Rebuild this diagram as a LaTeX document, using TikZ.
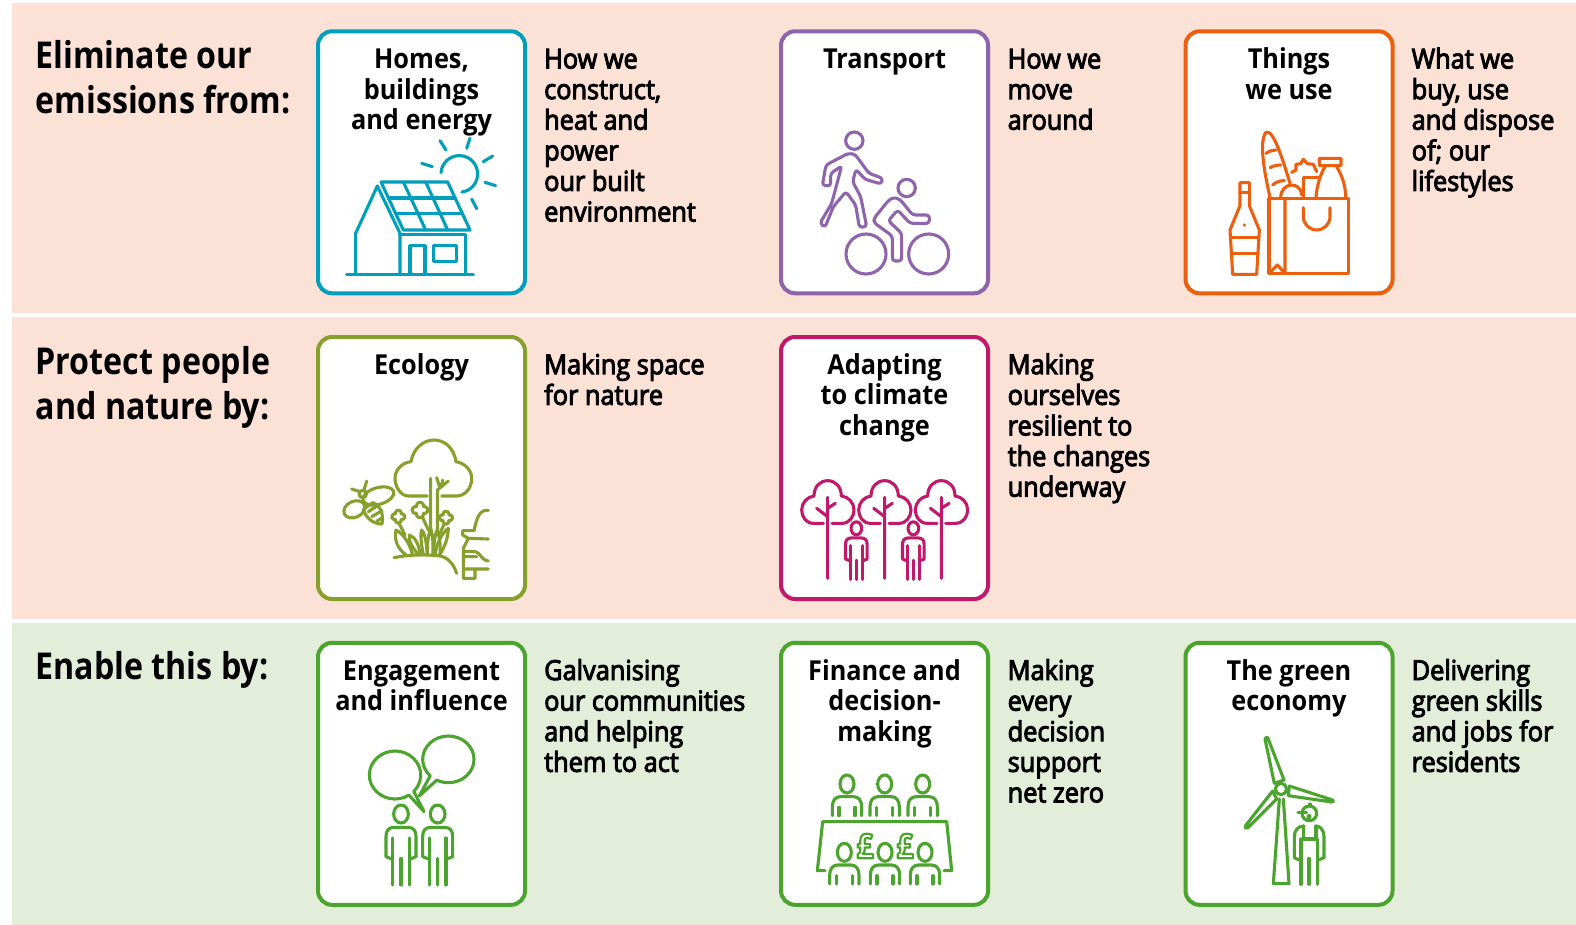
\documentclass[tikz,border=0pt]{standalone}
\usepackage{fontspec}
\setmainfont{Open Sans}[FakeStretch=0.92]
\newfontfamily\headfont{Open Sans}[FakeStretch=0.87]
\newfontfamily\semifont{Open Sans}[FakeStretch=0.92,FakeBold=3.5]
\definecolor{bandpeach}{HTML}{FCE1D6}
\definecolor{bandgreen}{HTML}{E2EDDA}
\definecolor{cteal}{HTML}{009FBC}
\definecolor{cpurple}{HTML}{8E64AB}
\definecolor{corange}{HTML}{EC5F0F}
\definecolor{colive}{HTML}{87A02B}
\definecolor{cmagenta}{HTML}{C2186A}
\definecolor{cgreen}{HTML}{4BA42E}
\tikzset{
  band/.style={fill=#1,draw=none},
  card/.style={draw=#1,fill=white,line width=4pt,rounded corners=14pt,minimum width=207pt,minimum height=262pt,inner sep=0pt,anchor=north west},
  heading/.style={anchor=base west,align=left,inner sep=0pt,font=\headfont\fontsize{37}{45}\selectfont\bfseries},
  title/.style={anchor=base,align=center,inner sep=0pt,font=\fontsize{27.5}{30.6}\selectfont\bfseries},
  desc/.style={anchor=base west,align=left,inner sep=0pt,font=\semifont\fontsize{27.5}{30.6}\selectfont},
  icon/.style={color=#1,line width=3.1pt,line cap=round,line join=round},
  zoomed/.style 2 args={shift={(#1,#2)},x=0.33333pt,y=-0.33333pt},
  person/.pic={
    \draw (0,0) ellipse[x radius=22,y radius=27];
    \draw (-25,136) -- (-45,128) -- (-45,68) .. controls (-45,50) and (-38,40) .. (-20,40) -- (20,40) .. controls (38,40) and (45,50) .. (45,68) -- (45,128) -- (25,136);
    \draw (-25,72) -- (-25,213) (25,72) -- (25,213) (0,133) -- (0,213);
  },
  sitter/.pic={
    \draw (0,0) ellipse[x radius=21,y radius=27];
    \draw (-44,95) -- (-44,68) .. controls (-44,50) and (-35,38) .. (-20,38) -- (20,38) .. controls (35,38) and (44,50) .. (44,68) -- (44,95);
    \draw (-24,70) -- (-24,95) (24,70) -- (24,95);
  },
  clover/.pic={
    \draw (7,-7) arc[start angle=-105.9,end angle=105.9,radius=7.3]
      arc[start angle=-15.9,end angle=195.9,radius=7.3]
      arc[start angle=74.1,end angle=285.9,radius=7.3]
      arc[start angle=164.1,end angle=375.9,radius=7.3] -- cycle;
  },
  ptree/.pic={
    \draw (130,190) -- (100,190) .. controls (78,190) and (65,170) .. (65,150) .. controls (65,128) and (82,110) .. (102,108)
      .. controls (102,80) and (120,62) .. (143,62) .. controls (166,62) and (184,80) .. (184,108)
      .. controls (205,110) and (222,128) .. (222,150) .. controls (222,170) and (208,190) .. (186,190) -- (156,190);
    \draw (143,112) -- (143,355) (110,145) -- (143,170) (143,145) -- (166,130);
  }
}
\begin{document}
\begin{tikzpicture}[x=1pt,y=-1pt]
\useasboundingbox (0,0) rectangle (1576,925);
% bands
\fill[band=bandpeach] (12,3) rectangle (1576,312.7);
\fill[band=bandpeach] (12,317.3) rectangle (1576,619);
\fill[band=bandgreen] (12,623) rectangle (1576,925);
% headings
\node[heading] (h1) at (35.5,113.7) {Eliminate our\\emissions from:};
\node[heading] (h2) at (35.5,419) {Protect people\\and nature by:};
\node[heading] (h3) at (35.5,679.5) {Enable this by:};
% cards
\node[card=cteal] (c1) at (316,29.3) {};
\node[card=cpurple] (c2) at (779,29.3) {};
\node[card=corange] (c3) at (1183.5,29.3) {};
\node[card=colive] (c4) at (316,335) {};
\node[card=cmagenta] (c5) at (779,335) {};
\node[card=cgreen] (c6) at (316,640.8) {};
\node[card=cgreen] (c7) at (779,640.8) {};
\node[card=cgreen] (c8) at (1183.5,640.8) {};
% titles
\node[title] (t1) at (421.5,129.7) {Homes,\\buildings\\and energy};
\node[title] (t2) at (884.5,68.5) {Transport};
\node[title] (t3) at (1289,99.1) {Things\\we use};
\node[title] (t4) at (421.5,374.2) {Ecology};
\node[title] (t5) at (884.5,435.4) {Adapting\\to climate\\change};
\node[title] (t6) at (421.5,710.6) {Engagement\\and influence};
\node[title] (t7) at (884.5,741.2) {Finance and\\decision-\\making};
\node[title] (t8) at (1289,710.6) {The green\\economy};
% descriptions
\node[desc] (d1) at (544,221.5) {How we\\construct,\\heat and\\power\\our built\\environment};
\node[desc] (d2) at (1007.5,129.7) {How we\\move\\around};
\node[desc] (d3) at (1411.5,190.9) {What we\\buy, use\\and dispose\\of; our\\lifestyles};
\node[desc] (d4) at (544,404.8) {Making space\\for nature};
\node[desc] (d5) at (1007.5,496.6) {Making\\ourselves\\resilient to\\the changes\\underway};
\node[desc] (d6) at (544,771.8) {Galvanising\\our communities\\and helping\\them to act};
\node[desc] (d7) at (1007.5,802.4) {Making\\every\\decision\\support\\net zero};
\node[desc] (d8) at (1411.5,771.8) {Delivering\\green skills\\and jobs for\\residents};
% icon 1: house
\begin{scope}[icon=cteal,zoomed={300}{0}]
\draw (140,823) -- (520,823);
\draw (300,823) -- (300,700) -- (232,558) -- (167,700) -- (167,823);
\draw (300,703) -- (497,703) -- (497,823);
\draw (330,823) -- (330,737) -- (375,737) -- (375,823);
\draw (400,737) rectangle (470,785);
\draw (243,546) -- (443,546) -- (510,690) -- (310,690) -- cycle;
\draw (265,594) -- (465,594) (288,640) -- (488,640);
\draw (310,546) -- (377,690) (377,546) -- (443,690);
\draw (423,518) arc[start angle=184,end angle=442,radius=55];
\draw (420,422) -- (438,450) (510,415) -- (500,445) (578,468) -- (550,485);
\draw (365,490) -- (397,500) (555,547) -- (587,557) (515,597) -- (530,626);
\end{scope}
% icon 2: walker and cyclist
\begin{scope}[icon=cpurple,zoomed={770}{110}]
\draw (253,92) circle[radius=26];
\draw (410,234) circle[radius=26];
\draw (288,432) circle[radius=60];
\draw (476,432) circle[radius=60];
\draw[rounded corners=3pt] (235,130) -- (255,133) -- (297,190) -- (338,205) -- (334,222) -- (285,208) -- (258,178) -- (248,215) -- (272,260) -- (290,350) -- (268,352) -- (257,285) -- (228,245) -- (190,290) -- (165,352) -- (150,340) -- (185,280) -- (215,168) -- (182,190) -- (182,228) -- (157,226) -- (168,165) -- cycle;
\draw[rounded corners=3pt] (370,262) -- (390,268) -- (428,315) -- (478,315) -- (478,340) -- (420,340) -- (383,300) -- (355,332) -- (395,370) -- (395,453) -- (367,453) -- (367,378) -- (312,338) -- (312,325) -- (355,272) -- cycle;
\end{scope}
% icon 3: shopping
\begin{scope}[icon=corange,zoomed={1190}{115}]
\draw (150,203) -- (178,203) -- (178,272) -- (208,345) -- (200,478) -- (128,478) -- (120,345) -- (150,272) -- cycle;
\draw (150,232) -- (178,232) (122,367) -- (206,367) (127,415) -- (201,415);
\fill (163,330) circle[radius=5];
\draw (237,250) rectangle (475,475);
\draw (285,250) -- (285,475) (237,475) -- (262,450) -- (285,475);
\draw (340,278) -- (340,305) arc[start angle=180,end angle=0,radius=40] -- (420,278);
\draw (240,248) .. controls (225,180) and (205,80) .. (228,52) .. controls (250,40) and (280,140) .. (300,205);
\draw (228,115) .. controls (238,108) and (248,105) .. (258,105);
\draw (240,158) .. controls (250,152) and (262,150) .. (272,150);
\draw (248,210) .. controls (258,200) and (272,197) .. (283,197);
\draw (272,248) .. controls (272,225) and (288,210) .. (305,210) .. controls (320,210) and (335,222) .. (335,240);
\draw (305,172) -- (318,165) -- (318,148) -- (332,146) -- (340,133) -- (352,146) -- (370,148) -- (380,170);
\draw (340,248) -- (340,188) -- (385,188);
\draw (378,248) .. controls (380,215) and (390,180) .. (405,155) (388,130) rectangle (453,152) (440,155) .. controls (455,180) and (467,210) .. (467,248);
\end{scope}
% icon 4: ecology
\begin{scope}[icon=colive,zoomed={320}{420}]
\draw (322,228) -- (265,228) .. controls (242,228) and (225,200) .. (225,175) .. controls (225,150) and (245,128) .. (273,125)
  .. controls (280,85) and (310,60) .. (342,60) .. controls (375,60) and (402,85) .. (408,125)
  .. controls (435,130) and (455,150) .. (455,175) .. controls (455,205) and (435,228) .. (410,228) -- (365,228);
\draw (332,175) -- (332,345) (352,345) -- (352,210) -- (385,183) (350,173) -- (358,198) (368,180) -- (365,196);
\path (235,290) pic[scale=1.2] {clover} (300,270) pic[scale=1.45] {clover} (378,293) pic[scale=1.2] {clover};
\draw (237,310) -- (255,345) (308,293) -- (325,330) (372,313) -- (360,340);
\draw (258,405) .. controls (232,385) and (222,360) .. (228,330) .. controls (255,345) and (270,375) .. (278,405);
\draw (295,405) .. controls (280,385) and (265,365) .. (268,345) .. controls (285,350) and (298,375) .. (300,405);
\draw (310,405) .. controls (305,380) and (300,345) .. (305,330) .. controls (318,345) and (320,380) .. (322,405);
\draw (322,405) .. controls (320,375) and (325,345) .. (332,325) .. controls (340,350) and (340,385) .. (338,405);
\draw (342,405) .. controls (340,375) and (345,340) .. (352,330) .. controls (360,350) and (362,385) .. (360,405);
\draw (358,405) .. controls (372,385) and (385,355) .. (385,325) .. controls (365,340) and (350,370) .. (345,405);
\draw (222,413) .. controls (270,403) and (320,403) .. (360,408) .. controls (385,412) and (402,435) .. (410,460);
\draw[rotate around={16:(175,228)}] (175,228) ellipse[x radius=48,y radius=25];
\draw[rotate around={25:(103,268)}] (103,268) ellipse[x radius=33,y radius=24];
\draw (130,268) -- (158,248) .. controls (180,255) and (192,280) .. (186,312) .. controls (160,312) and (138,295) .. (130,268);
\draw (145,275) -- (175,255) (155,290) -- (186,272) (170,304) -- (188,292);
\draw (128,222) circle[radius=11];
\draw (95,207) -- (120,215) (140,183) -- (132,210);
\draw (505,271) .. controls (478,268) and (470,295) .. (462,332) -- (428,332) -- (428,345) -- (445,355) -- (430,385) -- (430,475) -- (465,475) -- (465,447);
\draw (445,355) -- (505,357) (432,395) -- (465,395) .. controls (480,395) and (482,420) .. (505,423) (432,410) -- (470,410) (432,447) -- (505,447);
\end{scope}
% icon 5: adapting
\begin{scope}[icon=cmagenta,zoomed={780}{460}]
\path (0,0) pic {ptree} (171,0) pic {ptree} (341,0) pic {ptree};
\path (229,205) pic[scale=0.72] {person} (400,205) pic[scale=0.72] {person};
\end{scope}
% icon 6: engagement
\begin{scope}[icon=cgreen,zoomed={340}{720}]
\draw (207,225.4) arc[start angle=57,end angle=403,x radius=77,y radius=72] -- (252,275) -- cycle;
\draw (270.6,167.5) arc[start angle=135,end angle=477,x radius=77,y radius=70] -- (238,228) -- cycle;
\path (183,282) pic {person} (293,282) pic {person};
\end{scope}
% icon 7: finance
\begin{scope}[icon=cgreen,zoomed={790}{760}]
\path (171,72) pic {sitter} (284,72) pic {sitter} (398,72) pic {sitter};
\draw (105,332) -- (82,332) -- (98,185) -- (470,185) -- (485,332) -- (462,332);
\path (163,277) pic {sitter} (285,277) pic {sitter} (405,277) pic {sitter};
\node[color=cgreen,inner sep=0pt,font=\headfont\fontsize{34}{34}\selectfont\bfseries] (p1) at (225,258) {\special{pdf:code 1 Tr 2.2 w}£\special{pdf:code 0 Tr}};
\node[color=cgreen,inner sep=0pt,font=\headfont\fontsize{34}{34}\selectfont\bfseries] (p2) at (345,258) {\special{pdf:code 1 Tr 2.2 w}£\special{pdf:code 0 Tr}};
\end{scope}
% icon 8: green economy
\begin{scope}[icon=cgreen,zoomed={1220}{725}]
\draw (183,192) circle[radius=17];
\draw (163,175) -- (135,42) .. controls (140,34) and (142,36) .. (146,45) -- (192,165) -- cycle;
\draw (208,183) -- (338,225) .. controls (342,228) and (340,232) .. (335,231) -- (205,212) -- cycle;
\draw (158,198) -- (78,300) .. controls (72,310) and (78,312) .. (84,308) -- (170,222) -- cycle;
\draw (178,222) -- (160,476) -- (207,476) -- (190,222);
\draw (268,265) circle[radius=22];
\draw (234,263) -- (260,263) (270,243) -- (270,237);
\draw (267,275) circle[radius=4];
\draw (238,405) -- (223,398) -- (223,335) .. controls (223,315) and (235,303) .. (252,303) (288,303) .. controls (300,303) and (312,315) .. (312,335) -- (312,398) -- (295,405);
\draw (250,303) -- (250,342) -- (288,342) -- (288,303) (243,342) -- (243,478) (292,342) -- (292,478) (267,400) -- (267,478);
\end{scope}
\end{tikzpicture}
\end{document}
